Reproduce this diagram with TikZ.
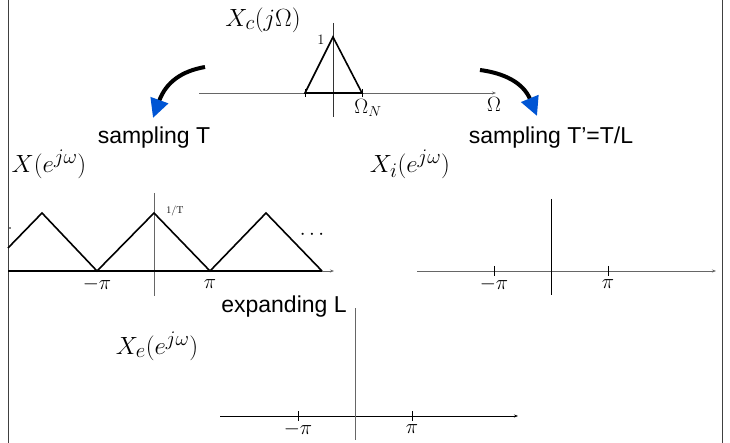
\documentclass[tikz,border=0pt]{standalone}
\usepackage{fontspec}
\setsansfont{Liberation Sans}
\usetikzlibrary{arrows.meta}
\definecolor{myblue}{RGB}{0,85,212}
\begin{document}
\begin{tikzpicture}[x=1pt,y=-1pt,
  frame/.style={line width=1pt, draw=black!75},
  axis/.style={line width=0.8pt, draw=black!60},
  axisarr/.style={axis, -{Stealth[length=4pt,width=3pt]}},
  sig/.style={line width=1.6pt, line join=miter},
  tickmark/.style={line width=0.8pt},
  caption/.style={font=\sffamily\fontsize{23}{26}\selectfont, inner sep=0pt},
  bigmath/.style={font=\fontsize{28}{32}\selectfont, inner sep=0pt},
  ticklbl/.style={font=\fontsize{21}{24}\selectfont, inner sep=0pt},
  bendarrow/.style={line width=4pt, -{Triangle[length=19pt,width=18pt,color=myblue]}}
]
\useasboundingbox (0,0) rectangle (730,443);
\draw[frame] (8,0) -- (8,443);
\draw[frame] (722,0) -- (722,443);

% top plot
\draw[axisarr] (199,93) -- (496,93);
\draw[axis, draw=black!80] (333,23) -- (333,117);
\draw[sig] (305,93) -- (333,37) -- (362,93) -- cycle;
\draw[tickmark] (305,89) -- (305,97);
\draw[tickmark] (362,89) -- (362,97);
\node[font=\fontsize{15}{17}\selectfont, inner sep=0pt] (one) at (321,40) {$1$};
\node[ticklbl] (omN) at (368,108) {$\Omega_N$};
\node[ticklbl] (om) at (494,104) {$\Omega$};
\node[bigmath] (Xc) at (263,20) {$X_c(j\Omega)$};

% captions
\node[caption] (sT) at (154,138) {sampling T};
\node[caption] (sTL) at (551,138) {sampling T’=T/L};
\node[caption] (expL) at (284,307) {expanding L};

% curved arrows
\coordinate (a1s) at (205,67);
\coordinate (a1e) at (153,118);
\coordinate (a2s) at (480,70);
\coordinate (a2e) at (537,116);
\draw[bendarrow] (a1s) .. controls (182,71) and (166,82) .. (a1e);
\draw[bendarrow] (a2s) .. controls (503,73) and (523,82) .. (a2e);

% middle-left plot
\node[bigmath] (X) at (49,164) {$X(e^{j\omega})$};
\draw[axisarr] (8,271) -- (334,271);
\draw[axis] (154,193) -- (154,296);
\draw[sig] (8,248) -- (42,213) -- (97,271) -- (154,213) -- (210,271) -- (266,213) -- (322,271);
\draw[sig] (8,271) -- (322,271);
\node[ticklbl] (mpi1) at (97,284) {$-\pi$};
\node[ticklbl] (pi1) at (210,284) {$\pi$};
\node[font=\rmfamily\fontsize{10}{11}\selectfont, inner sep=0pt] (invT) at (175,211) {1/T};
\node[ticklbl] (dots) at (312,235) {$\cdots$};
\fill (10,228) circle (0.9);

% middle-right plot
\node[bigmath] (Xi) at (410,164) {$X_i(e^{j\omega})$};
\draw[axisarr] (417,271) -- (716,271);
\draw[axis, draw=black] (551,199) -- (551,295);
\draw[tickmark] (494,266) -- (494,276);
\draw[tickmark] (608,266) -- (608,276);
\node[ticklbl] (mpi2) at (494,284) {$-\pi$};
\node[ticklbl] (pi2) at (608,284) {$\pi$};

% bottom plot
\node[bigmath] (Xe) at (157,346) {$X_e(e^{j\omega})$};
\draw[axisarr, draw=black] (220,416) -- (518,416);
\draw[axis] (355,308) -- (355,440);
\draw[tickmark] (298,411) -- (298,421);
\draw[tickmark] (412,411) -- (412,421);
\node[ticklbl] (mpi3) at (298,429) {$-\pi$};
\node[ticklbl] (pi3) at (412,429) {$\pi$};
\end{tikzpicture}
\end{document}
